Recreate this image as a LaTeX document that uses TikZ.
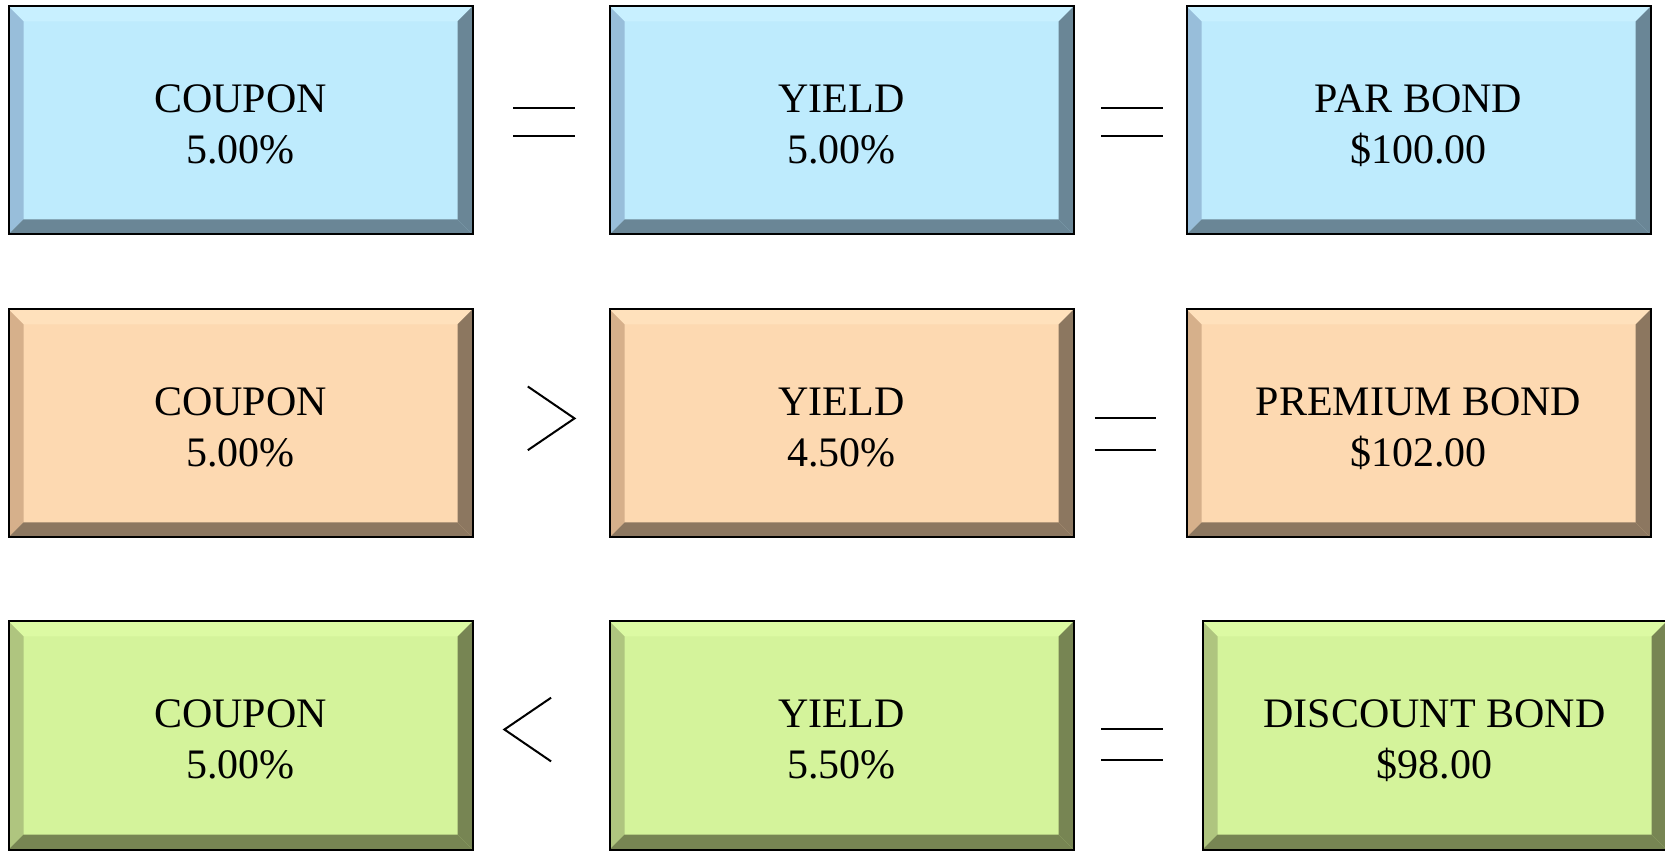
\documentclass[tikz,border=0pt]{standalone}
\usepackage{fontspec}
\setmainfont{Liberation Serif}
\usetikzlibrary{positioning, calc}
\usepackage{xcolor}
\definecolor{BlueFace}{HTML}{BEEBFD}
\definecolor{BlueTop}{HTML}{C8F0FF}
\definecolor{BlueLeft}{HTML}{98BEDA}
\definecolor{BlueDark}{HTML}{6A8696}
\definecolor{OrangeFace}{HTML}{FDD9B1}
\definecolor{OrangeTop}{HTML}{FFE1BC}
\definecolor{OrangeLeft}{HTML}{D6B08B}
\definecolor{OrangeDark}{HTML}{8C7760}
\definecolor{GreenFace}{HTML}{D4F39B}
\definecolor{GreenTop}{HTML}{DCFAA3}
\definecolor{GreenLeft}{HTML}{AFC57F}
\definecolor{GreenDark}{HTML}{778553}
\tikzset{
  bondbox/.style={
    rectangle, draw=black, line width=1pt,
    minimum width=232pt, minimum height=114pt,
    align=center, font=\fontsize{21}{25.5}\selectfont,
    text height=42.6pt, text depth=0pt,
    fill=#1Face,
    path picture={
      \coordinate (nw) at (path picture bounding box.north west);
      \coordinate (ne) at (path picture bounding box.north east);
      \coordinate (sw) at (path picture bounding box.south west);
      \coordinate (se) at (path picture bounding box.south east);
      \fill[#1Top] (nw) -- (ne) -- ($(ne)+(-7.5pt,-7.5pt)$) -- ($(nw)+(7.5pt,-7.5pt)$) -- cycle;
      \fill[#1Left] (nw) -- ($(nw)+(7.5pt,-7.5pt)$) -- ($(sw)+(7.5pt,7.5pt)$) -- (sw) -- cycle;
      \fill[#1Dark] (ne) -- (se) -- ($(se)+(-7.5pt,7.5pt)$) -- ($(ne)+(-7.5pt,-7.5pt)$) -- cycle;
      \fill[#1Dark] (sw) -- ($(sw)+(7.5pt,7.5pt)$) -- ($(se)+(-7.5pt,7.5pt)$) -- (se) -- cycle;
    }
  },
  relation/.style={draw=black, line width=1pt}
}

\begin{document}
\begin{tikzpicture}

\useasboundingbox (0,0) rectangle (832.5pt,-427pt);

% ── Par bond row ──────────────────────────────────────────────────────────────

\node[bondbox=Blue] (C1) at (120.25pt,-60.25pt) {COUPON\\5.00\%};
\node[bondbox=Blue, right=67.5pt of C1] (Y1) {YIELD\\5.00\%};
\node[bondbox=Blue, right=55.5pt of Y1] (P1) {PAR BOND\\\$100.00};

% ── Premium bond row ──────────────────────────────────────────────────────────

\node[bondbox=Orange, below=36.5pt of C1] (C2) {COUPON\\5.00\%};
\node[bondbox=Orange, right=67.5pt of C2] (Y2) {YIELD\\4.50\%};
\node[bondbox=Orange, right=55.5pt of Y2] (P2) {PREMIUM BOND\\\$102.00};

% ── Discount bond row ─────────────────────────────────────────────────────────

\node[bondbox=Green, below=41pt of C2] (C3) {COUPON\\5.00\%};
\node[bondbox=Green, right=67.5pt of C3] (Y3) {YIELD\\5.50\%};
\node[bondbox=Green, right=63.5pt of Y3] (P3) {DISCOUNT BOND\\\$98.00};

% ── Gap midpoints ─────────────────────────────────────────────────────────────

\coordinate (r11) at ($(C1.east)!0.5!(Y1.west)$);
\coordinate (r12) at ($(Y1.east)!0.5!(P1.west)$);
\coordinate (r21) at ($(C2.east)!0.5!(Y2.west)$);
\coordinate (r22) at ($(Y2.east)!0.5!(P2.west)$);
\coordinate (r31) at ($(C3.east)!0.5!(Y3.west)$);
\coordinate (r32) at ($(Y3.east)!0.5!(P3.west)$);

% ── Relation signs ────────────────────────────────────────────────────────────

\draw[relation] ($(r11)+(-14pt,6.1pt)$) -- ++(30.75pt,0);
\draw[relation] ($(r11)+(-14pt,-7.7pt)$) -- ++(30.75pt,0);
\draw[relation] ($(r12)+(-14.5pt,6.1pt)$) -- ++(31pt,0);
\draw[relation] ($(r12)+(-14.5pt,-7.7pt)$) -- ++(31pt,0);

\draw[relation] ($(r21)+(-6.6pt,18.5pt)$) -- ($(r21)+(16.75pt,2.55pt)$) -- ($(r21)+(-6.6pt,-13.35pt)$);
\draw[relation] ($(r22)+(-17.6pt,2.55pt)$) -- ++(30.8pt,0);
\draw[relation] ($(r22)+(-17.6pt,-13.35pt)$) -- ++(30.8pt,0);

\draw[relation] ($(r31)+(5.05pt,18.9pt)$) -- ($(r31)+(-18.3pt,3pt)$) -- ($(r31)+(5.05pt,-12.95pt)$);
\draw[relation] ($(r32)+(-18.5pt,3pt)$) -- ++(31pt,0);
\draw[relation] ($(r32)+(-18.5pt,-12.4pt)$) -- ++(31pt,0);

\end{tikzpicture}
\end{document}
